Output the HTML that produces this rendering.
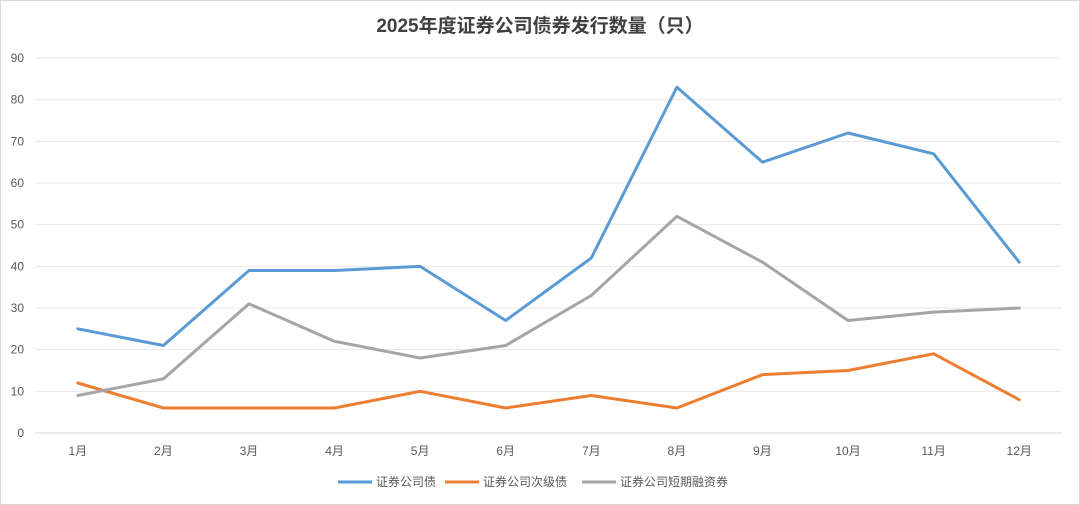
<!DOCTYPE html>
<html><head><meta charset="utf-8">
<style>
html,body{margin:0;padding:0;background:#fff;}
svg{display:block;font-family:"Liberation Sans","Noto Sans CJK SC",sans-serif;}
</style></head>
<body>
<svg id="chart" width="1080" height="505" viewBox="0 0 1080 505">
<rect x="0.5" y="0.5" width="1079" height="504" fill="#fff" stroke="#d9d9d9"/>
<text x="540" y="32" text-anchor="middle" font-size="19" font-weight="bold" fill="#404040">2025年度证券公司债券发行数量（只）</text>
<g id="grid"></g>
<g id="yticks"></g>
<g id="xticks"></g>
<g id="series"></g>
<g id="legend"></g>
</svg>
<script>
const categories=["1月","2月","3月","4月","5月","6月","7月","8月","9月","10月","11月","12月"];
const bondValues=[25,21,39,39,40,27,42,83,65,72,67,41];
const subBondValues=[12,6,6,6,10,6,9,6,14,15,19,8];
const shortTermValues=[9,13,31,22,18,21,33,52,41,27,29,30];
const yTicks=[0,10,20,30,40,50,60,70,80,90];
const seriesNames=["证券公司债","证券公司次级债","证券公司短期融资券"];
const colors=["#5b9bd5","#ed7d31","#a5a5a5"];
const NS="http://www.w3.org/2000/svg";
const L=35,R=1062,T=58,B=433,yMax=90;
const step=(R-L)/categories.length;
const xs=i=>L+step*(i+0.5);
const ys=v=>B-(v/yMax)*(B-T);
function mk(tag,attrs,parent){const e=document.createElementNS(NS,tag);for(const k in attrs)e.setAttribute(k,attrs[k]);parent.appendChild(e);return e;}
const grid=document.getElementById('grid'),yt=document.getElementById('yticks'),xt=document.getElementById('xticks'),sg=document.getElementById('series'),lg=document.getElementById('legend');
yTicks.forEach(v=>{
  const ln=mk('line',{x1:L,x2:R,y1:ys(v),y2:ys(v),stroke:v===0?'#d9d9d9':'#e8e8e8','stroke-width':1},grid);
  
  
  const t=mk('text',{x:24,y:ys(v)+4,'text-anchor':'end','font-size':12,fill:'#595959'},yt);
  t.textContent=v;
  
  
});
categories.forEach((c,i)=>{
  const t=mk('text',{x:xs(i),y:455,'text-anchor':'middle','font-size':12,fill:'#595959'},xt);
  t.textContent=c;
  
  
});
[bondValues,subBondValues,shortTermValues].forEach((vals,s)=>{
  const p=mk('polyline',{points:vals.map((v,i)=>xs(i)+','+ys(v)).join(' '),fill:'none',stroke:colors[s],'stroke-width':3,'stroke-linejoin':'round','stroke-linecap':'round'},sg);
  
  
});
const legX=[338,445,582];
seriesNames.forEach((n,s)=>{
  const l=mk('line',{x1:legX[s],x2:legX[s]+34,y1:482,y2:482,stroke:colors[s],'stroke-width':3},lg);
  
  
  const t=mk('text',{x:legX[s]+38,y:486,'font-size':12,fill:'#595959'},lg);
  t.textContent=n;
  
  
});
</script>
</body></html>
